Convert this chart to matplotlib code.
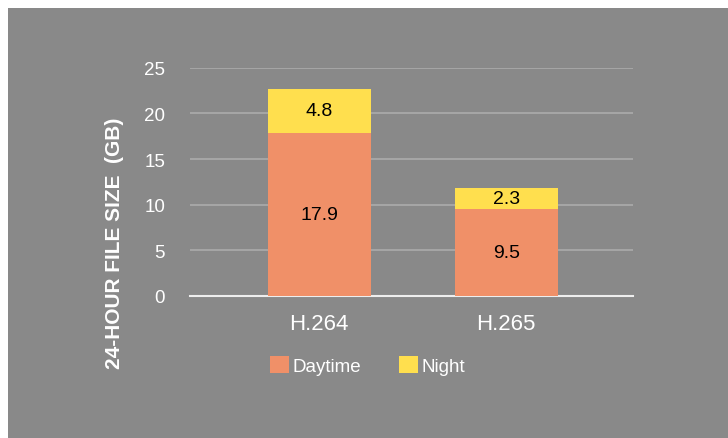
import matplotlib
matplotlib.use("Agg")
import matplotlib.pyplot as plt
from matplotlib.patches import Rectangle

codecs = ["H.264", "H.265"]
daytime = [17.9, 9.5]
night = [4.8, 2.3]
series_names = ["Daytime", "Night"]
y_ticks = [0, 5, 10, 15, 20, 25]

bg = "#898989"
orange = "#F09068"
yellow = "#FFDF4E"

plt.rcParams['font.family'] = ['Liberation Sans', 'DejaVu Sans']

fig = plt.figure(figsize=(7.28, 4.39), dpi=100)
fig.patch.set_facecolor("white")
fig.patches.append(Rectangle((8 / 728, 0), 720 / 728, 430 / 439,
                             transform=fig.transFigure, facecolor=bg,
                             edgecolor="none", zorder=-1))

ax = fig.add_axes([0.261, 0.3235, 0.608, 0.52])
ax.set_facecolor(bg)

x = list(range(len(codecs)))
b1 = ax.bar(x, daytime, width=0.55, color=orange, label=series_names[0], zorder=3)
b2 = ax.bar(x, night, width=0.55, bottom=daytime, color=yellow, label=series_names[1], zorder=3)

for i in x:
    ax.text(i, daytime[i] / 2, f"{daytime[i]}", ha="center", va="center",
            fontsize=14, color="black", zorder=4)
    ax.text(i, daytime[i] + night[i] / 2, f"{night[i]}", ha="center", va="center",
            fontsize=14, color="black", zorder=4)

ax.set_xlim(-0.691, 1.676)
ax.set_ylim(0, 25)
ax.set_yticks(y_ticks)
ax.set_xticks(x)
ax.set_xticklabels(codecs, fontsize=16, color="white")
ax.tick_params(axis="y", labelsize=13.5, labelcolor="white", length=0, pad=18)
ax.tick_params(axis="x", length=0, pad=12)
ax.yaxis.grid(True, color="#ABABAB", linewidth=1.2, zorder=0)
ax.set_axisbelow(True)
for s in ["top", "right", "left"]:
    ax.spines[s].set_visible(False)
ax.spines["bottom"].set_color("#EEEEEE")
ax.spines["bottom"].set_linewidth(1.5)

ax.set_ylabel("24-HOUR FILE SIZE  (GB)", fontsize=15, fontweight="bold",
              color="white")
ax.yaxis.set_label_coords(-0.15, 0.237)

fig.legend(handles=[b1, b2], loc="center", bbox_to_anchor=(0.505, 0.166), ncol=2,
           frameon=False, fontsize=13.5, labelcolor="white", handlelength=1.0,
           handleheight=1.0, handletextpad=0.2, columnspacing=2.0)

fig.savefig("out.png", dpi=100, facecolor=fig.get_facecolor())
